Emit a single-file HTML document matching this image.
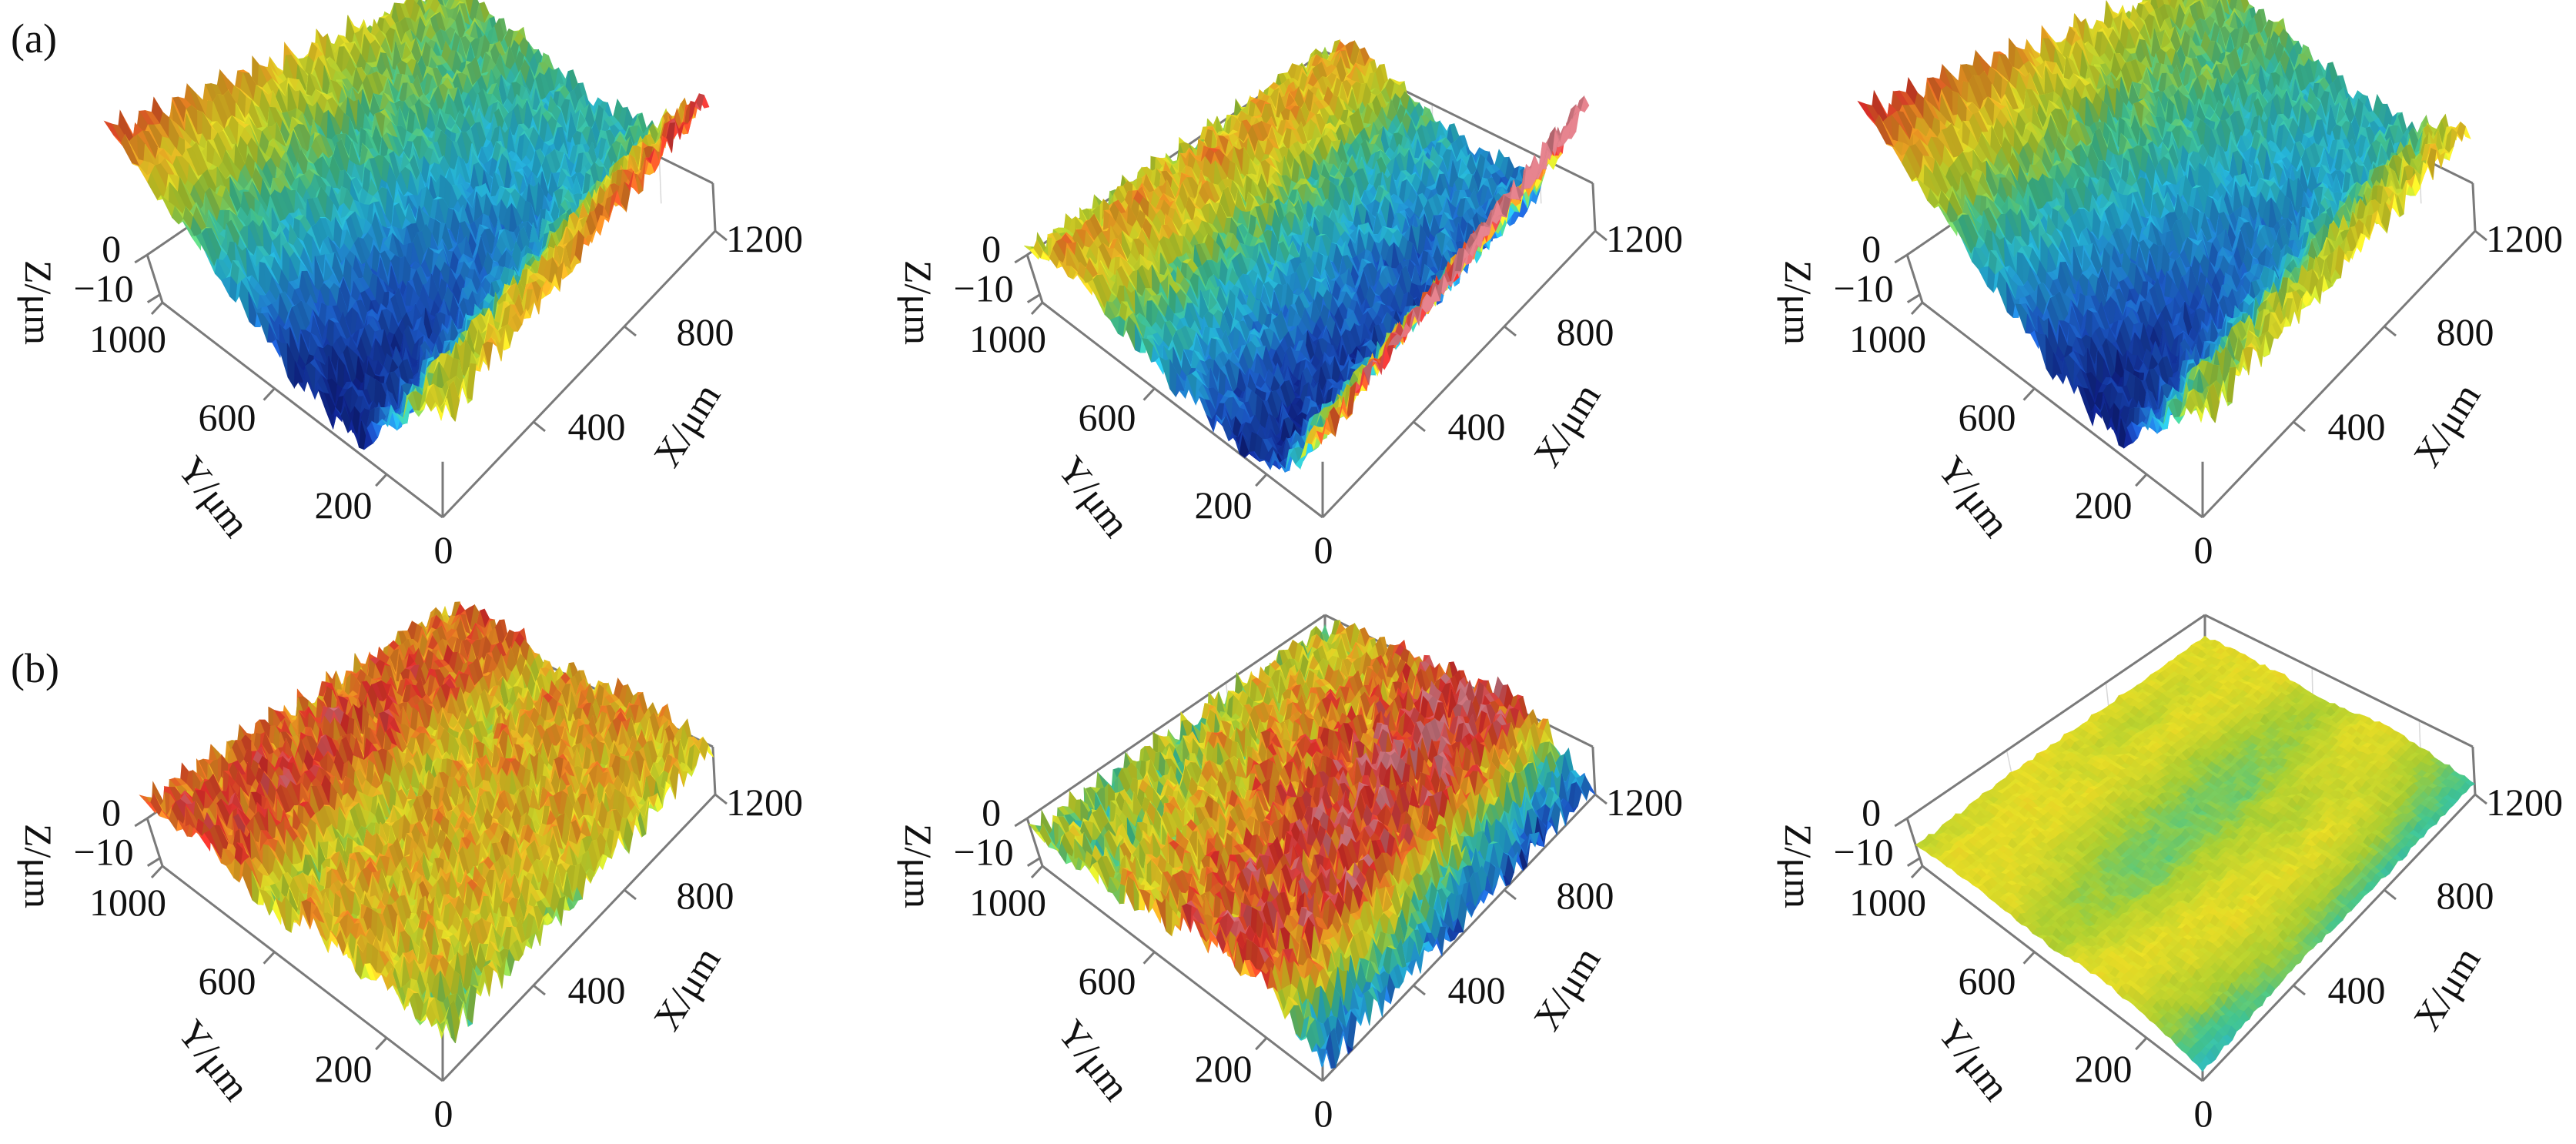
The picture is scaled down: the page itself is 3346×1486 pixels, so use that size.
<!DOCTYPE html>
<html><head><meta charset="utf-8">
<style>
html,body{margin:0;padding:0;background:#fff;}
svg{display:block;}
svg text{font-family:"Liberation Serif","DejaVu Serif",serif !important;fill:#111;}
</style></head>
<body>
<svg id="fig" width="3346" height="1486" viewBox="0 0 3346 1486" xmlns="http://www.w3.org/2000/svg" font-family="Liberation Serif, serif">
<rect x="0" y="0" width="3346" height="1486" fill="#fff"/>
<text x="14" y="68" font-size="54" font-family="Liberation Serif, serif">(a)</text>
<text x="14" y="886" font-size="54" font-family="Liberation Serif, serif">(b)</text>
</svg>
<script>
// ---- data (z in μm at y rows 0..1000 step 100, x cols 0,400,800,1200) ----
const yVals = [0,100,200,300,400,500,600,700,800,900,1000];
const xVals = [0,400,800,1200];
const zA1 = [[10,14,18,22],[8,10,12,14],[-4,-1,2,5],[-12,-7,-2,2],[-13,-8,-2,2],[-11,-6,-1,3],[-6,-2,1,4],[0,2,4,5],[5,5,5,5],[11,9,7,6],[19,15,11,7]];
const zA2 = [[6,11,16,22],[-4,0,4,8],[-11,-10,-9,-8],[-11,-10,-8,-7],[-9,-8,-7,-6],[-7,-6,-5,-5],[-4,-4,-3,-3],[-1,-1,-1,-1],[3,3,3,3],[4,4,4,4],[0,0,0,1]];
const zA3 = [[10,12,13,14],[6,8,9,10],[-5,-2,2,4],[-12,-7,-2,2],[-13,-7,-1,3],[-10,-4,1,4],[-5,-1,3,5],[1,3,5,6],[7,7,6,6],[14,12,9,7],[22,18,13,9]];
const zB1 = [[-4,-3,-2,-1],[-2,-1,0,0],[-1,0,0,1],[0,0,0,1],[0,0,0,1],[0,0,1,1],[-3,-3,-2,-2],[3,3,2,2],[4,4,3,3],[3,3,3,2],[2,2,1,1]];
const zB2 = [[-10,-8,-10,-10],[-4,-3,-6,-6],[1,2,1,0],[2,2,2,2],[1,2,3,3],[0,1,2,2],[-1,0,1,1],[-2,-1,0,0],[-3,-2,-1,-1],[-4,-3,-2,-2],[-4,-4,-3,-3]];
const zB3 = [[-10,-8,-9,-9],[-8,-7,-7,-8],[-7,-6,-6,-7],[-6,-6,-7,-6],[-6,-7,-7,-6],[-7,-8,-8,-7],[-7,-8,-8,-7],[-6,-7,-7,-6],[-6,-6,-6,-6],[-6,-6,-7,-6],[-7,-6,-6,-6]];
const roughness = [0.3,-0.8,0.9,-0.2,0.6,-0.5,0.1,0.95,-0.9,0.4,-0.1,0.7,-0.6,0.2,-0.35,0.85,-0.75,0.5,0.05,-0.45,0.65,-0.95,0.15,0.8,-0.3,0.45,-0.65,0.25,-0.05,0.75,-0.55,0.35,-0.85,0.55,-0.15,0.9,-0.4,0.1,-0.7,0.6,-0.25];
const zTicks = [0,-10];
const yTicks = [200,600,1000];
const xTicks = [400,800,1200];
const zTickLabels = ["0","\u221210"];

const panels = [
 {name:'a1',col:0,row:0,z:zA1,cmin:-12,cmax:24,amp:4,tilt:12,skew:0},
 {name:'a2',col:1,row:0,z:zA2,cmin:-12,cmax:10,amp:3.5,tilt:0,skew:0},
 {name:'a3',col:2,row:0,z:zA3,cmin:-12,cmax:26,amp:4,tilt:14,skew:0},
 {name:'b1',col:0,row:1,z:zB1,cmin:-14,cmax:8,amp:4,tilt:0,skew:0.3},
 {name:'b2',col:1,row:1,z:zB2,cmin:-12,cmax:4,amp:4,tilt:0,skew:0},
 {name:'b3',col:2,row:1,z:zB3,cmin:-15,cmax:-1,amp:0.5,tilt:0,skew:0}
];

const NS = 'http://www.w3.org/2000/svg';
const svg = document.getElementById('fig');
const XF=[354,-372], YF=[-364,-279], CB=[13,101];
const ZFLOOR=-12, K0=5.74;
const FONT='Liberation Serif, serif';

const stops=[[0,16,36,140],[0.15,30,96,210],[0.33,40,190,228],[0.45,70,205,150],[0.55,176,214,52],[0.65,238,228,40],[0.78,245,150,36],[0.9,230,48,44],[1,210,120,130]];
function jet(t){
  t=Math.max(0,Math.min(1,t));
  for(let i=1;i<stops.length;i++){
    if(t<=stops[i][0]){const a=stops[i-1],b=stops[i];const f=(t-a[0])/(b[0]-a[0]);
      return [a[1]+(b[1]-a[1])*f,a[2]+(b[2]-a[2])*f,a[3]+(b[3]-a[3])*f];}
  }
  return stops[stops.length-1].slice(1);
}
function floorPt(O,u,v){
  return [O[0]+u*XF[0]+v*YF[0]+u*v*CB[0], O[1]+u*XF[1]+v*YF[1]+u*v*CB[1]];
}
function proj2(O,u,v,h){
  const f=floorPt(O,u,v);
  const s=1-0.1*u-0.1*v;
  const r=h*K0*s;
  const lean=0.32*v*(1-u)+0.05*u*(1-v);
  return [f[0]-lean*r, f[1]-r];
}
function interp(Z,x,y){
  const fy=y/100, iy=Math.min(9,Math.floor(fy)), ty=fy-iy;
  const fx=x/400, ix=Math.min(2,Math.floor(fx)), tx=fx-ix;
  const a=Z[iy][ix], b=Z[iy][ix+1], c=Z[iy+1][ix], d=Z[iy+1][ix+1];
  return (a*(1-tx)+b*tx)*(1-ty)+(c*(1-tx)+d*tx)*ty;
}
function mk(tag,attrs,parent){
  const e=document.createElementNS(NS,tag);
  for(const k in attrs) e.setAttribute(k,attrs[k]);
  (parent||svg).appendChild(e);
  return e;
}
function line(g,p,q,w,c){
  return mk('line',{x1:p[0].toFixed(1),y1:p[1].toFixed(1),x2:q[0].toFixed(1),y2:q[1].toFixed(1),stroke:c||'#7a7a7a','stroke-width':w||3},g);
}
function txt(g,x,y,s,anchor,extra){
  const a={x:x,y:y,'font-size':50,'font-family':FONT,'text-anchor':anchor||'middle','dominant-baseline':'central'};
  if(extra) for(const k in extra) a[k]=extra[k];
  const t=mk('text',a,g);
  t.textContent=s;
  return t;
}

const NX=64, NY=54;
panels.forEach(P=>{
  const O=[575+1143*P.col, 672+732*P.row];
  const g=mk('g',{});
  
  
  const box=mk('g',{},g);
  
  
  const top=12;
  const pO=floorPt(O,0,0), pX=floorPt(O,1,0), pY=floorPt(O,0,1), pB=floorPt(O,1,1);
  const tX=proj2(O,1,0,top), tY=proj2(O,0,1,top), tB=proj2(O,1,1,top), tO=proj2(O,0,0,top*1.05);
  [1/3,2/3].forEach(u=>{const e=line(box,floorPt(O,u,1),proj2(O,u,1,top),1.5,'#d8d8d8');});
  [0.2,0.6].forEach(v=>{const e=line(box,floorPt(O,1,v),proj2(O,1,v,top),1.5,'#d8d8d8');});
  [[tY,tB],[tB,tX],[pB,tB],[pY,tY],[pX,tX],[pO,tO],[pO,pX],[pO,pY]].forEach(s=>{
    const e=line(box,s[0],s[1],3);
    
    
  });
  const sg=mk('g',{},g);
  
  
  const V=[];
  for(let j=0;j<=NY;j++){V.push([]);for(let i=0;i<=NX;i++){
    const u=i/NX, v=j/NY;
    const n=roughness[(i*7+j*11+((i*j)%5))%roughness.length];
    const z=interp(P.z,u*1200,v*1000)+P.amp*(n+P.skew);
    const h=z-ZFLOOR+P.tilt*v;
    V[j].push({z:z,p:proj2(O,u,v,Math.max(0,h))});
  }}
  const cells=[];
  for(let j=0;j<NY;j++)for(let i=0;i<NX;i++)cells.push([i,j,(i+0.5)/NX+(j+0.5)/NY]);
  cells.sort((a,b)=>b[2]-a[2]);
  cells.forEach(c=>{
    const i=c[0],j=c[1];
    const a=V[j][i],b=V[j][i+1],d=V[j+1][i+1],e=V[j+1][i];
    const zm=(a.z+b.z+d.z+e.z)/4;
    const col=jet((zm-P.cmin)/(P.cmax-P.cmin));
    let f=0.97+0.035*(a.z-d.z);
    f=Math.max(0.8,Math.min(1.1,f));
    const cs='rgb('+Math.min(255,col[0]*f|0)+','+Math.min(255,col[1]*f|0)+','+Math.min(255,col[2]*f|0)+')';
    const pts=[a.p,b.p,d.p,e.p].map(p=>p[0].toFixed(1)+','+p[1].toFixed(1)).join(' ');
    const el=mk('polygon',{points:pts,fill:cs,stroke:cs,'stroke-width':0.8},sg);
    
    
  });
  const tg=mk('g',{},g);
  
  
  const yOff={200:[-129,-16],600:[-280,-130],1000:[-409,-232]};
  yTicks.forEach(t=>{
    const f=floorPt(O,0,t/1000);
    const e=line(tg,f,[f[0]-14,f[1]+15],3);
    
    
    const o=yOff[t];
    const tx=txt(tg,O[0]+o[0],O[1]+o[1],String(t));
    
    
  });
  const xOff={400:[200,-118],800:[341,-241],1200:[418,-362]};
  xTicks.forEach(t=>{
    const f=floorPt(O,t/1200,0);
    const e=line(tg,f,[f[0]+15,f[1]+12],3);
    
    
    const o=xOff[t];
    const tx=txt(tg,O[0]+o[0],O[1]+o[1],String(t));
    
    
  });
  zTicks.forEach((t,k)=>{
    const p=proj2(O,0,1,t-ZFLOOR);
    const e=line(tg,p,[p[0]-16,p[1]+10],3);
    
    
    const tx=txt(tg,p[0]-34,p[1]-8,zTickLabels[k],'end');
    
    
  });
  const o0=txt(tg,O[0]+1,O[1]+42,'0');
  
  
  const zl=txt(tg,0,0,'Z/\u03bcm','middle',{transform:'translate('+(O[0]-525)+','+(O[1]-279)+') rotate(90)'});
  
  
  const yl=txt(tg,0,0,'Y/\u03bcm','middle',{transform:'translate('+(O[0]-297)+','+(O[1]-27)+') rotate(52)'});
  
  
  const xl=txt(tg,0,0,'X/\u03bcm','middle',{transform:'translate('+(O[0]+317)+','+(O[1]-120)+') rotate(-58)'});
  
  
});
</script>
</body></html>
